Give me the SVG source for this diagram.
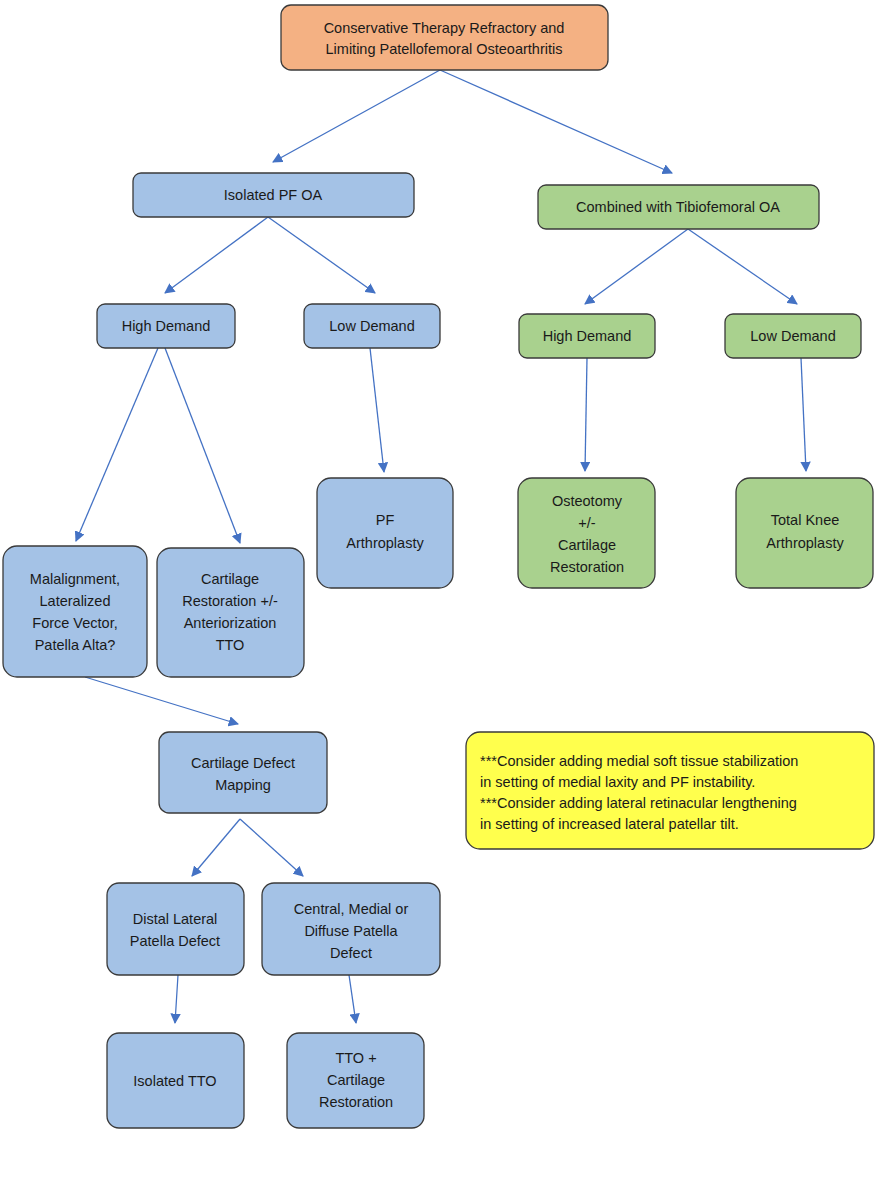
<svg xmlns="http://www.w3.org/2000/svg" width="876" height="1200" viewBox="0 0 876 1200">
<defs>
<marker id="ah" viewBox="0 0 10 10" refX="9" refY="5" markerWidth="8" markerHeight="8" orient="auto"><path d="M0,0 L10,5 L0,10 z" fill="#4472c4"/></marker>
<style>
rect{stroke:#3a3a3a;stroke-width:1.3}
.b{fill:#a4c2e6}.g{fill:#a9d18e}.o{fill:#f4b183}.y{fill:#ffff4d}
text{font-family:"Liberation Sans",Arial,sans-serif;font-size:14.5px;fill:#1a1a1a;text-anchor:middle}
.l{text-anchor:start}
line{stroke:#4472c4;stroke-width:1.3;marker-end:url(#ah)}
</style>
</defs>
<rect width="876" height="1200" fill="#fff" style="stroke:none"/>
<g id="connectors">
<line x1="440" y1="70" x2="273" y2="162"/><line x1="440" y1="70" x2="672" y2="173"/>
<line x1="268" y1="217" x2="165" y2="293"/><line x1="268" y1="217" x2="375" y2="293"/>
<line x1="688" y1="229" x2="585" y2="304"/><line x1="688" y1="229" x2="797" y2="304"/>
<line x1="158" y1="348" x2="76" y2="541"/><line x1="165" y1="348" x2="240" y2="543"/>
<line x1="370" y1="348" x2="384" y2="472"/>
<line x1="587" y1="358" x2="585" y2="471"/><line x1="801" y1="358" x2="806" y2="471"/>
<line x1="85" y1="677" x2="238" y2="724"/>
<line x1="240" y1="819" x2="192" y2="876"/><line x1="240" y1="819" x2="303" y2="876"/>
<line x1="178" y1="975" x2="175" y2="1023"/><line x1="349" y1="975" x2="356" y2="1023"/>
</g>
<g id="top"><rect class="o" x="281" y="5" width="327" height="65" rx="10"/><text x="444" y="33">Conservative Therapy Refractory and</text><text x="444" y="54">Limiting Patellofemoral Osteoarthritis</text></g>
<g id="iso"><rect class="b" x="133" y="173" width="281" height="44" rx="8"/><text x="273" y="200">Isolated PF OA</text></g>
<g id="comb"><rect class="g" x="538" y="185" width="281" height="44" rx="8"/><text x="678" y="212">Combined with Tibiofemoral OA</text></g>
<g id="hd1"><rect class="b" x="97" y="304" width="138" height="44" rx="8"/><text x="166" y="331">High Demand</text></g>
<g id="ld1"><rect class="b" x="304" y="304" width="136" height="44" rx="8"/><text x="372" y="331">Low Demand</text></g>
<g id="hd2"><rect class="g" x="519" y="314" width="136" height="44" rx="8"/><text x="587" y="341">High Demand</text></g>
<g id="ld2"><rect class="g" x="725" y="314" width="136" height="44" rx="8"/><text x="793" y="341">Low Demand</text></g>
<g id="mal"><rect class="b" x="3" y="546" width="144" height="131" rx="14"/><text x="75" y="584">Malalignment,</text><text x="75" y="606">Lateralized</text><text x="75" y="628">Force Vector,</text><text x="75" y="650">Patella Alta?</text></g>
<g id="cr"><rect class="b" x="157" y="548" width="147" height="129" rx="14"/><text x="230" y="584">Cartilage</text><text x="230" y="606">Restoration +/-</text><text x="230" y="628">Anteriorization</text><text x="230" y="650">TTO</text></g>
<g id="pfa"><rect class="b" x="317" y="478" width="136" height="110" rx="14"/><text x="385" y="525">PF</text><text x="385" y="548">Arthroplasty</text></g>
<g id="ost"><rect class="g" x="518" y="478" width="137" height="110" rx="14"/><text x="587" y="506">Osteotomy</text><text x="587" y="528">+/-</text><text x="587" y="550">Cartilage</text><text x="587" y="572">Restoration</text></g>
<g id="tka"><rect class="g" x="736" y="478" width="137" height="110" rx="14"/><text x="805" y="525">Total Knee</text><text x="805" y="548">Arthroplasty</text></g>
<g id="cdm"><rect class="b" x="159" y="732" width="168" height="81" rx="10"/><text x="243" y="768">Cartilage Defect</text><text x="243" y="790">Mapping</text></g>
<g id="note"><rect class="y" x="466" y="732" width="408" height="117" rx="14"/><text class="l" x="480" y="766">***Consider adding medial soft tissue stabilization</text><text class="l" x="480" y="787">in setting of medial laxity and PF instability.</text><text class="l" x="480" y="808">***Consider adding lateral retinacular lengthening</text><text class="l" x="480" y="829">in setting of increased lateral patellar tilt.</text></g>
<g id="dl"><rect class="b" x="107" y="883" width="137" height="92" rx="12"/><text x="175" y="924">Distal Lateral</text><text x="175" y="946">Patella Defect</text></g>
<g id="cm"><rect class="b" x="262" y="883" width="178" height="92" rx="12"/><text x="351" y="914">Central, Medial or</text><text x="351" y="936">Diffuse Patella</text><text x="351" y="958">Defect</text></g>
<g id="itto"><rect class="b" x="107" y="1033" width="137" height="95" rx="12"/><text x="175" y="1086">Isolated TTO</text></g>
<g id="ttocr"><rect class="b" x="287" y="1033" width="137" height="95" rx="12"/><text x="356" y="1063">TTO +</text><text x="356" y="1085">Cartilage</text><text x="356" y="1107">Restoration</text></g>
</svg>
